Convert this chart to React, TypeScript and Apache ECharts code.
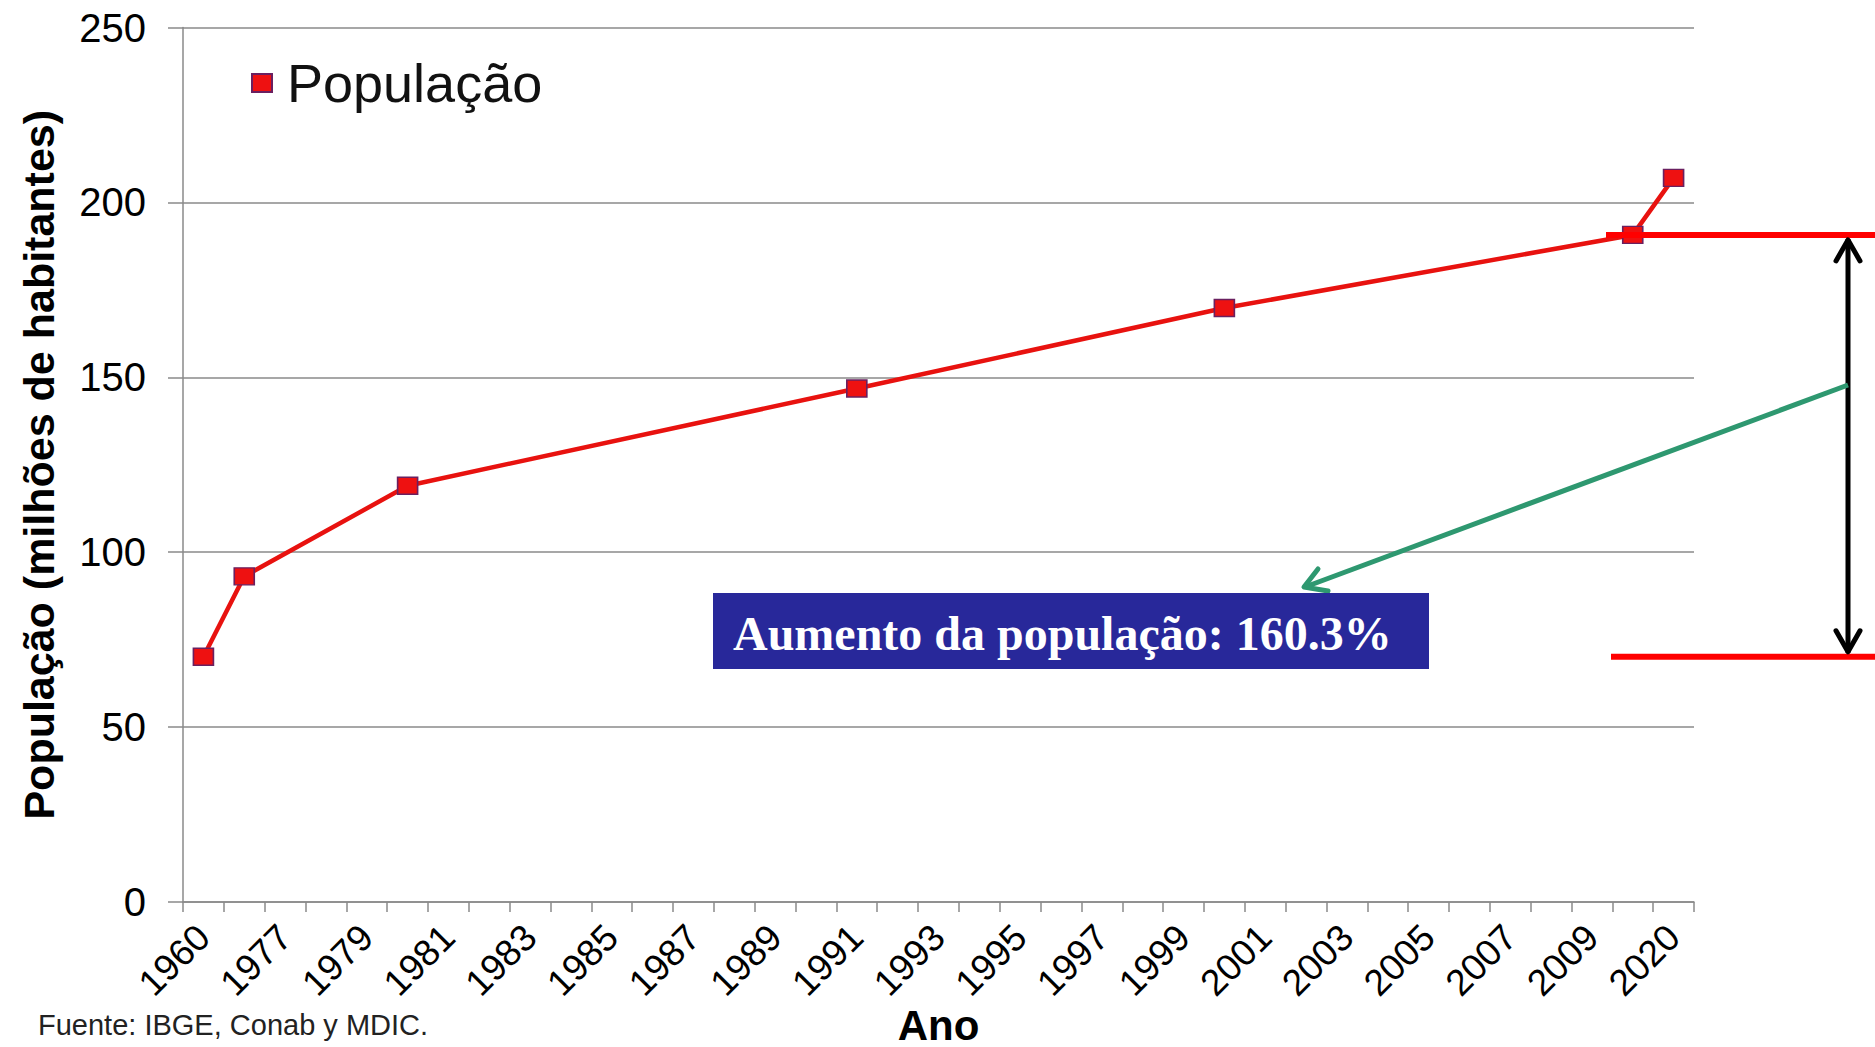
import React, { useEffect, useRef } from "react";
import * as echarts from "echarts";

// x categories (37 slots, labels shown every other one)
const categories = [
  "1960", "1970", "1977", "1978", "1979", "1980", "1981", "1982", "1983", "1984",
  "1985", "1986", "1987", "1988", "1989", "1990", "1991", "1992", "1993", "1994",
  "1995", "1996", "1997", "1998", "1999", "2000", "2001", "2002", "2003", "2004",
  "2005", "2006", "2007", "2008", "2009", "2010", "2020",
];
const dataYears = ["1960", "1970", "1980", "1991", "2000", "2010", "2020"];
const populacao = [70.1, 93.1, 119.0, 146.8, 169.8, 190.7, 207.0];
const yTicks = [0, 50, 100, 150, 200, 250];

const SANS = "'Liberation Sans', Arial, sans-serif";

export default function App() {
  const ref = useRef<HTMLDivElement>(null);
  useEffect(() => {
    document.body.style.margin = "0";
    if (!ref.current) return;
    const chart = echarts.init(ref.current, null, { renderer: "svg" });
    const option: any = {
      animation: false,
      backgroundColor: "#ffffff",
      grid: {
        left: 183,
        right: 181,
        top: 27.5,
        bottom: 145,
        containLabel: false,
        outerBoundsMode: "none",
      },
      legend: {
        left: 246,
        top: 51,
        itemWidth: 20,
        itemHeight: 18,
        itemGap: 10,
        data: [{ name: "População", icon: "rect" }],
        textStyle: { fontSize: 54, color: "#111", fontFamily: SANS, padding: [0, 0, 0, 10] },
      },
      xAxis: {
        type: "category",
        data: categories,
        boundaryGap: true,
        name: "Ano",
        nameLocation: "middle",
        nameGap: 102,
        nameMoveOverlap: false,
        nameTextStyle: { fontSize: 42, fontWeight: "bold", color: "#000", fontFamily: SANS, lineHeight: 42 },
        axisLine: { lineStyle: { color: "#8a8a8a", width: 1.5 } },
        axisTick: { show: true, interval: 0, length: 10, lineStyle: { color: "#8a8a8a", width: 1.5 } },
        axisLabel: {
          interval: 1,
          rotate: 45,
          margin: 29,
          fontSize: 37,
          color: "#000",
          fontFamily: SANS,
        },
        splitLine: { show: false },
      },
      yAxis: {
        type: "value",
        min: yTicks[0],
        max: yTicks[yTicks.length - 1],
        interval: 50,
        name: "População (milhões de habitantes)",
        nameLocation: "middle",
        nameGap: 123,
        nameMoveOverlap: false,
        nameTextStyle: { fontSize: 43, fontWeight: "bold", color: "#000", fontFamily: SANS },
        axisLine: { show: true, lineStyle: { color: "#8a8a8a", width: 1.5 } },
        axisTick: { show: true, length: 15, lineStyle: { color: "#8a8a8a", width: 1.5 } },
        axisLabel: { margin: 37, fontSize: 40, color: "#000", fontFamily: SANS },
        splitLine: { show: true, lineStyle: { color: "#8a8a8a", width: 1.5 } },
      },
      series: [
        {
          name: "População",
          type: "line",
          data: dataYears.map((y, i) => [y, populacao[i]]),
          symbol: "rect",
          symbolSize: [20, 17],
          lineStyle: { color: "#e8120f", width: 4.5 },
          itemStyle: { color: "#ee1111", borderColor: "#6a2060", borderWidth: 1.5 },
          z: 3,
        },
      ],
    };
    chart.setOption(option);

    const yTop = chart.convertToPixel({ yAxisIndex: 0 }, populacao[5]) as number;
    const yBot = chart.convertToPixel({ yAxisIndex: 0 }, populacao[0]) as number;
    const ax = 1848;
    const green = "#2e9870";

    chart.setOption({
      graphic: [
        {
          type: "text",
          left: 38,
          top: 1010,
          style: { text: "Fuente: IBGE, Conab y MDIC.", fontSize: 29, fill: "#222", fontFamily: SANS },
        },
        {
          type: "line",
          shape: { x1: 1606, y1: yTop, x2: 1875, y2: yTop },
          style: { stroke: "#ff0000", lineWidth: 6 },
          z: 10,
        },
        {
          type: "line",
          shape: { x1: 1611, y1: yBot, x2: 1875, y2: yBot },
          style: { stroke: "#ff0000", lineWidth: 6 },
          z: 10,
        },
        {
          type: "line",
          shape: { x1: ax, y1: yTop + 4, x2: ax, y2: yBot - 4 },
          style: { stroke: "#000", lineWidth: 5 },
          z: 11,
        },
        {
          type: "polyline",
          shape: { points: [[ax - 12, yTop + 26], [ax, yTop + 5], [ax + 12, yTop + 26]] },
          style: { stroke: "#000", lineWidth: 5, fill: "none", lineJoin: "round", lineCap: "round" },
          z: 11,
        },
        {
          type: "polyline",
          shape: { points: [[ax - 12, yBot - 26], [ax, yBot - 5], [ax + 12, yBot - 26]] },
          style: { stroke: "#000", lineWidth: 5, fill: "none", lineJoin: "round", lineCap: "round" },
          z: 11,
        },
        {
          type: "line",
          shape: { x1: ax, y1: 385, x2: 1305, y2: 587 },
          style: { stroke: green, lineWidth: 5 },
          z: 11,
        },
        {
          type: "polyline",
          shape: { points: [[1318, 569], [1304, 587], [1328, 591]] },
          style: { stroke: green, lineWidth: 5, fill: "none", lineJoin: "round", lineCap: "round" },
          z: 11,
        },
        {
          type: "rect",
          shape: { x: 713, y: 593, width: 716, height: 76 },
          style: { fill: "#28289a" },
          z: 12,
        },
        {
          type: "text",
          x: 733,
          y: 633,
          style: {
            text: "Aumento da população: 160.3%",
            fontSize: 48,
            fontWeight: "bold",
            fill: "#ffffff",
            fontFamily: "'Liberation Serif', 'Times New Roman', serif",
            verticalAlign: "middle",
          },
          z: 13,
        },
      ],
    });
    return () => chart.dispose();
  }, []);
  return <div ref={ref} style={{ width: 1875, height: 1047 }} />;
}
